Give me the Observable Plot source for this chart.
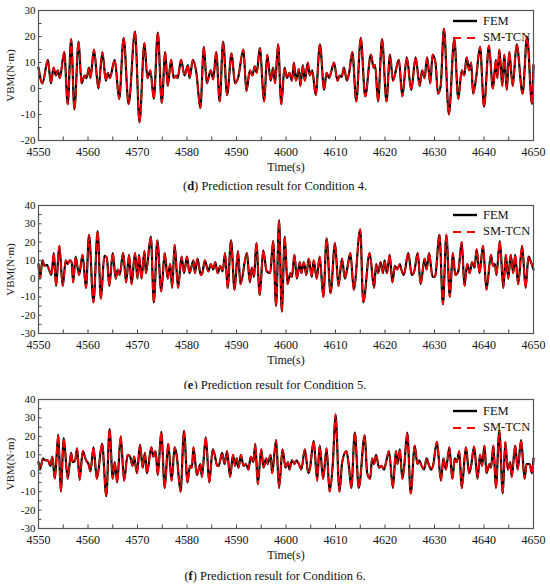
<!DOCTYPE html>
<html><head><meta charset="utf-8">
<script src="https://cdn.jsdelivr.net/npm/d3@7"></script>
<script src="https://cdn.jsdelivr.net/npm/@observablehq/plot@0.6"></script>
<style>
body{margin:0;background:#fff;}
#root{position:relative;width:550px;height:587px;overflow:hidden;font-family:"Liberation Serif","Times New Roman",serif;background:#fff;}
.panel{position:absolute;left:0;}
.cap{position:absolute;left:0;width:550px;text-align:center;font-size:12.5px;line-height:14px;color:#111;font-family:"Liberation Serif","Times New Roman",serif;}
.leg{position:absolute;font-size:12.5px;color:#111;font-family:"Liberation Serif","Times New Roman",serif;}
.leg .row{display:flex;align-items:center;height:16.5px;}
.leg svg{margin-right:6px;}
</style></head><body><div id="root"></div>
<script>
// ---- tick labels ----
const xTickLabels = [4550, 4560, 4570, 4580, 4590, 4600, 4610, 4620, 4630, 4640, 4650];
const xMinorTicks = [4555, 4560, 4565, 4570, 4575, 4580, 4585, 4590, 4595, 4600, 4605, 4610, 4615, 4620, 4625, 4630, 4635, 4640, 4645];
const yTicksD = [-20, -10, 0, 10, 20, 30];
const yMinorD = [-15, -10, -5, 0, 5, 10, 15, 20, 25];
const yTicksEF = [-30, -20, -10, 0, 10, 20, 30, 40];
const yMinorEF = [-25, -20, -15, -10, -5, 0, 5, 10, 15, 20, 25, 30, 35];
const seriesNames = ["FEM", "SM-TCN"];
const captions = [["d", "Prediction result for Condition 4."], ["e", "Prediction result for Condition 5."], ["f", "Prediction result for Condition 6."]];

// ---- Condition 4 ----
const timeD = [4550.0,4550.8,4551.9,4552.5,4553.05,4553.5,4553.9,4554.3,4555.2,4555.9,4556.6,4557.25,4558.1,4558.7,4559.3,4559.7,4560.2,4560.5,4561.2,4562.1,4562.9,4563.6,4564.0,4564.4,4565.4,4566.3,4567.2,4568.2,4569.5,4570.4,4571.4,4572.0,4572.6,4573.3,4574.1,4574.9,4575.6,4576.1,4576.8,4577.3,4577.8,4578.1,4578.8,4579.5,4580.2,4580.5,4581.2,4581.9,4582.7,4583.4,4584.0,4584.8,4585.3,4585.9,4586.6,4587.3,4588.1,4589.0,4589.7,4590.3,4591.4,4592.0,4592.7,4593.2,4593.7,4594.1,4594.7,4595.6,4596.2,4596.9,4597.4,4597.8,4598.4,4599.05,4599.7,4600.2,4600.7,4601.2,4601.6,4602.0,4602.6,4602.9,4603.4,4603.8,4604.4,4604.8,4605.3,4606.0,4606.85,4607.7,4608.2,4608.7,4609.2,4609.7,4610.4,4610.85,4611.25,4611.7,4612.3,4612.75,4613.4,4614.2,4615.1,4616.0,4617.15,4617.7,4618.0,4618.6,4619.4,4620.3,4621.0,4621.6,4622.8,4623.5,4624.4,4625.3,4626.2,4627.0,4627.5,4628.0,4628.5,4629.15,4629.6,4630.2,4630.7,4631.25,4631.9,4632.9,4634.0,4634.8,4635.5,4636.0,4636.5,4637.0,4637.4,4637.8,4638.4,4639.2,4640.0,4641.0,4641.8,4642.4,4642.7,4643.1,4643.7,4644.1,4644.6,4645.1,4645.8,4646.6,4647.8,4648.7,4649.7,4650.0];
const femD = [8,2,11,2,8,5,7,4,14,-6,19,-8,18,2,5,4,8,4,15,0,14,3,6,4,11,-4,19.5,-6,22,-13,17.5,4,7,-4,21.5,-5.5,14,1,11,4,5,4,11,5,9,4,11,6,-7.5,16,2,7,3.5,14,-5,18,-2.5,13.5,2,4,15,-1,7,5,8.5,6,15.5,-5,13,3,8,2,17,-6,8,4,6,3,10,3,7.5,1,9,3,10,5,7,-2.5,17,-0.5,6,4,7,10,3,5,4.5,8,3,6,14,-5,19.5,-3,13,8,9,-5,19,-5,13,3,11,-3,12,-0.5,12,1,7,4,12,2,13,10,-2,1,23,-10,19,-4,7,5,12,7,10,-2,4,16,-7,16.5,0,11,4,15,1,13,-0.5,14,1,17,-2,20,-6,9];
const tcnD = femD;

// ---- Condition 5 ----
const timeE = [4550.0,4550.3,4550.8,4551.2,4551.7,4552.0,4552.6,4553.1,4553.55,4554.2,4554.9,4555.5,4555.9,4556.3,4556.7,4557.0,4557.5,4558.2,4558.9,4559.6,4560.2,4561.1,4561.95,4562.6,4563.3,4563.8,4564.3,4565.0,4565.6,4566.0,4566.4,4567.1,4567.7,4568.3,4568.8,4569.5,4570.0,4570.3,4570.8,4571.4,4571.7,4572.7,4573.3,4574.0,4574.8,4575.5,4576.1,4576.6,4577.0,4577.5,4578.2,4578.9,4579.4,4580.0,4580.5,4581.3,4581.6,4582.1,4582.8,4583.1,4583.6,4584.3,4584.8,4585.3,4585.7,4586.2,4586.7,4587.2,4587.7,4588.2,4588.9,4589.6,4590.3,4590.8,4592.1,4592.7,4593.1,4593.55,4594.0,4594.7,4595.4,4596.1,4596.8,4597.4,4598.0,4598.6,4599.15,4599.75,4600.3,4600.9,4601.2,4601.7,4602.2,4602.8,4603.1,4603.6,4604.1,4604.6,4605.2,4605.6,4606.2,4606.8,4607.55,4608.2,4609.0,4609.9,4610.6,4611.3,4611.9,4612.4,4613.0,4613.7,4615.0,4615.6,4616.9,4617.8,4618.2,4618.6,4619.1,4619.6,4619.9,4620.4,4620.95,4621.5,4622.0,4622.45,4623.0,4623.3,4623.8,4624.7,4625.4,4625.9,4626.6,4627.2,4628.0,4628.4,4628.9,4629.6,4630.1,4631.0,4631.7,4632.4,4633.1,4633.7,4634.2,4634.8,4635.5,4636.05,4636.6,4637.1,4637.6,4638.1,4638.5,4639.1,4639.8,4640.5,4641.4,4641.8,4642.2,4642.5,4643.2,4643.9,4644.4,4644.9,4645.4,4645.9,4646.3,4646.9,4647.7,4648.4,4649.0,4649.5,4650.0];
const femE = [8,0,10,7,7.5,6,2,14,-4,18,-4,10,8,10,9,-2,12,2,13,-5,24,-13,26,-11,12.5,11.5,-4,14,0,5,2,14,-2,13,-3,14,0,13,0,15,3,23,-13,21,-7,14,0,8,-5,18.5,-5,12,3,12,3,10,3,11,2,3,10,4,8,5,9,3,7,4,14,-5,21,-6,15,-3,14,-2,6,1,19.5,-9,15.5,4,3,20.5,-15,32,-18,23,-3,3,1,13,0,9,3,9,2,11,1,10,0,12,-10,22,-8,19.5,-4,11,0,6,14,-6,27,-13,14,-5,8,3,9,3,10,3,13,-2,7,5,8,5,2,14,2,4,14,-3,11,5,14,1,1,24,-14,24,-10,14,2,4,20,-4,8,3,9,6,16,3,18,-6,13,7,8,2,20.5,-5,13,0,13,3,13,-3,18,-5,12,9,5];
const tcnE = femE;

// ---- Condition 6 ----
const timeF = [4550.0,4550.3,4550.9,4551.4,4551.9,4552.4,4552.8,4553.3,4554.0,4554.5,4555.1,4555.9,4556.6,4556.9,4557.4,4557.8,4558.3,4558.95,4559.6,4560.1,4560.5,4561.1,4561.8,4562.85,4563.7,4564.35,4565.0,4565.4,4565.9,4566.6,4567.3,4568.0,4568.5,4569.0,4569.3,4569.9,4570.5,4571.05,4571.5,4571.9,4572.8,4573.2,4573.65,4574.1,4574.8,4575.5,4576.2,4576.9,4577.5,4577.9,4578.7,4579.4,4580.1,4580.6,4581.0,4581.3,4582.0,4582.7,4583.0,4583.8,4584.5,4585.2,4585.6,4586.1,4586.4,4587.1,4587.6,4588.1,4588.7,4589.3,4589.7,4590.05,4590.4,4590.9,4591.4,4591.9,4592.4,4592.9,4593.4,4593.8,4594.3,4595.0,4595.45,4596.0,4596.3,4596.9,4597.2,4598.0,4598.6,4599.3,4599.9,4600.4,4600.7,4601.2,4601.7,4602.1,4602.6,4603.1,4603.8,4604.5,4604.8,4605.6,4606.3,4606.8,4607.5,4608.2,4608.8,4609.5,4610.0,4610.8,4611.35,4612.2,4612.7,4613.2,4613.9,4614.7,4615.9,4616.4,4617.0,4617.4,4617.8,4618.2,4618.8,4619.3,4619.8,4620.3,4620.8,4621.6,4622.2,4622.5,4623.0,4623.5,4623.85,4624.5,4625.2,4626.0,4626.55,4626.9,4627.4,4627.9,4628.4,4628.8,4629.3,4629.7,4630.5,4631.3,4631.8,4632.3,4633.0,4633.6,4634.1,4634.5,4635.0,4635.5,4636.35,4637.0,4637.4,4638.0,4638.7,4639.2,4639.6,4640.1,4640.5,4641.1,4641.4,4641.9,4642.4,4643.1,4643.8,4644.3,4644.8,4645.3,4645.6,4646.3,4646.8,4647.5,4648.2,4648.6,4649.2,4649.7,4650.0];
const femF = [6,2,8,7,7,4,9,-3,21,-10,19,-3,11,6,7,13.5,-3.5,12,7,5,1,14,-3,16,-12.5,24,-3,6,-5,20,-4,10,9,4,9,0,15.5,3,11,0,14,9,12,-1,22.5,-8,16,-4,14,10,-10,23,-5,4,3,14,-1,5,-2,19.5,-5,13,10,4,4,11,5,12,-2,10,4,8,3,10,4,5,2,9,6,16,-6,13,3,8,5,10,0,18,-8,13,3,6,2,7,5,7,5,2,13,0,2,17.5,-4,15,-3,13.5,-10,7,32,-10,6,12,4,-8,22,-8,20.5,0,-3,8,5,10,3,4,2,7,12,-8,12,5,13,-3,3,22,-11,15,5,7,4,2,8,5,2,4,17,-4,8,2,14,-3,8,6,12,-8,14,0,4,14.5,-3,10,4,15,0,5,3,15,-8,23,-11,17,2,6,-2,15,2,18,-3,5,5,0,8];
const tcnF = femF;

const root = document.getElementById("root");

function makePanel(times, fem, tcn, yDomain, yTicks, yMinor, svgTop, frameH, legendTop, capTop, cap) {
  const W = 550, mL = 38, mR = 17, mT = 10, mB = 36;
  const plotW = W - mL - mR;
  const data = times.map((t, i) => ({t, fem: fem[i], tcn: tcn[i]}));
  const chart = Plot.plot({
    width: W, height: mT + frameH + mB,
    marginLeft: mL, marginRight: mR, marginTop: mT, marginBottom: mB,
    x: {domain: [4550, 4650]},
    y: {domain: yDomain},
    style: {fontFamily: "'Liberation Serif','Times New Roman',serif", fontSize: "11.5px", color: "#111", background: "white"},
    marks: [
      Plot.line(data, {x: "t", y: "fem", stroke: "#000", strokeWidth: 2.2, curve: "monotone-x"}),
      Plot.line(data, {x: "t", y: "tcn", stroke: "#ff0000", strokeWidth: 1.6, strokeDasharray: "7,4", curve: "monotone-x"}),
      Plot.tickX(xMinorTicks, {x: d => d, insetTop: frameH - 3.5, stroke: "#444", strokeWidth: 1}),
      Plot.tickY(yMinor, {y: d => d, insetRight: plotW - 3.5, stroke: "#444", strokeWidth: 1}),
      Plot.frame({stroke: "#555", strokeWidth: 1.2}),
      Plot.axisX({ticks: xTickLabels, tickSize: 0, tickPadding: 7, tickFormat: d => String(d), label: "Time(s)", labelAnchor: "center", labelOffset: 30, labelArrow: "none", fontSize: 12}),
      Plot.axisY({ticks: yTicks, tickSize: 0, tickPadding: 3, tickFormat: d => String(d), label: "VBM(N·m)", labelAnchor: "center", labelOffset: 32, labelArrow: "none", fontSize: 11})
    ]
  });
  const wrap = document.createElement("div");
  wrap.className = "panel";
  wrap.style.top = svgTop + "px";
  wrap.appendChild(chart);
  root.appendChild(wrap);

  const leg = document.createElement("div");
  leg.className = "leg";
  leg.style.left = "453px";
  leg.style.top = legendTop + "px";
  const styles = [{stroke: "#000", w: 2.4, dash: ""}, {stroke: "#ff0000", w: 2, dash: "8,6"}];
  seriesNames.forEach((name, i) => {
    const row = document.createElement("div");
    row.className = "row";
    const s = styles[i];
    row.innerHTML = `<svg width="24" height="6"><line x1="0" x2="24" y1="3" y2="3" stroke="${s.stroke}" stroke-width="${s.w}" ${s.dash ? `stroke-dasharray="${s.dash}"` : ""}/></svg><span>${name}</span>`;
    leg.appendChild(row);
  });
  root.appendChild(leg);

  const c = document.createElement("div");
  c.className = "cap";
  c.style.top = capTop + "px";
  c.innerHTML = `(<b>${cap[0]}</b>) ${cap[1]}`;
  root.appendChild(c);
}

makePanel(timeD, femD, tcnD, [-20, 30], yTicksD, yMinorD, 0, 130, 13, 179, captions[0]);
makePanel(timeE, femE, tcnE, [-30, 40], yTicksEF, yMinorEF, 195, 128, 207, 378, captions[1]);
makePanel(timeF, femF, tcnF, [-30, 40], yTicksEF, yMinorEF, 389, 129, 403, 569, captions[2]);
</script></body></html>
